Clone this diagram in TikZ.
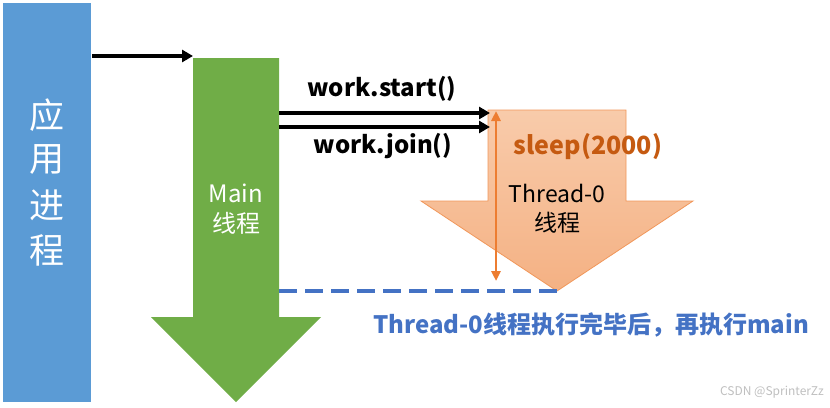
\documentclass[tikz,border=0pt]{standalone}
\usepackage{fontspec}
\setmainfont{Noto Sans CJK SC}
\usetikzlibrary{arrows.meta, positioning, calc}
\definecolor{procblue}{HTML}{5B9BD5}
\definecolor{maingreen}{HTML}{70AD47}
\definecolor{thrdorange}{HTML}{ED7D31}
\definecolor{sleepbrown}{HTML}{C55A11}
\definecolor{noteblue}{HTML}{4472C4}

\begin{document}
\begin{tikzpicture}[x=1pt, y=-1pt,
    flow/.style={-{Triangle[length=11pt,width=12pt]}, line width=3.4pt},
    span/.style={{Triangle[length=10pt,width=9pt]}-{Triangle[length=10pt,width=9pt]}, line width=2.8pt, thrdorange},
    call label/.style={font=\fontsize{24}{26}\selectfont\bfseries},
    white label/.style={text=white, font=\fontsize{24}{26}\selectfont, inner sep=0pt}]
    \useasboundingbox (0,0) rectangle (830,407);
    % 应用进程
    \fill[procblue] (3,3) rectangle (91,402);
    \foreach \ch [count=\i] in {应,用,进,程}
        \node[text=white, font=\fontsize{35}{37}\selectfont, inner sep=0pt] (proc\i) at (47,{70+45*\i}) {\ch};
    % Main 线程
    \fill[maingreen] (193,58) -- (279,58) -- (279,317) -- (321,317) -- (236,402) -- (151,317) -- (193,317) -- cycle;
    \node[white label] (mainname) at (236,193) {Main};
    \node[white label] (mainthread) at (236,223) {线程};
    % Thread-0 线程
    \shade[top color=orange!10!thrdorange!40, bottom color=thrdorange!60, draw=thrdorange!80, line width=0.8pt]
        (488,110) -- (626,110) -- (626,201) -- (693,201) -- (557,291) -- (421,201) -- (488,201) -- cycle;
    \node[font=\fontsize{25}{27}\selectfont\bfseries, text=sleepbrown] (sleep) at (588,147) {sleep(2000)};
    \node[font=\fontsize{23}{25}\selectfont, inner sep=0pt] (thrdname) at (557,193) {Thread-0};
    \node[font=\fontsize{23}{25}\selectfont, inner sep=0pt] (thrdthread) at (557,223) {线程};
    % connectors
    \coordinate (procOut) at (92,56);
    \coordinate (mainIn) at (193,56);
    \draw[flow] (procOut) -- (mainIn);
    \coordinate (startOut) at (279,113);
    \coordinate (startIn) at (490,113);
    \coordinate (joinOut) at (279,127);
    \coordinate (joinIn) at (490,127);
    \draw[flow] (startOut) -- (startIn);
    \draw[flow] (joinOut) -- (joinIn);
    \node[call label] (startlbl) at (382,89) {work.start()};
    \node[call label] (joinlbl) at (383,146) {work.join()};
    \coordinate (sleepTop) at (496,111);
    \coordinate (sleepEnd) at (496,281);
    \draw[span] (sleepTop) -- (sleepEnd);
    \coordinate (doneL) at (279,291);
    \coordinate (doneR) at (557,291);
    \draw[noteblue, line width=3.5pt, dash pattern=on 18pt off 8pt] (doneL) -- (doneR);
    \node[font=\fontsize{24}{26}\selectfont\bfseries, text=noteblue] (note) at (591,325) {Thread-0线程执行完毕后，再执行main};
    \node[font=\fontsize{12}{14}\selectfont, text=black!25] (mark) at (772,392) {CSDN @SprinterZz};
\end{tikzpicture}
\end{document}
